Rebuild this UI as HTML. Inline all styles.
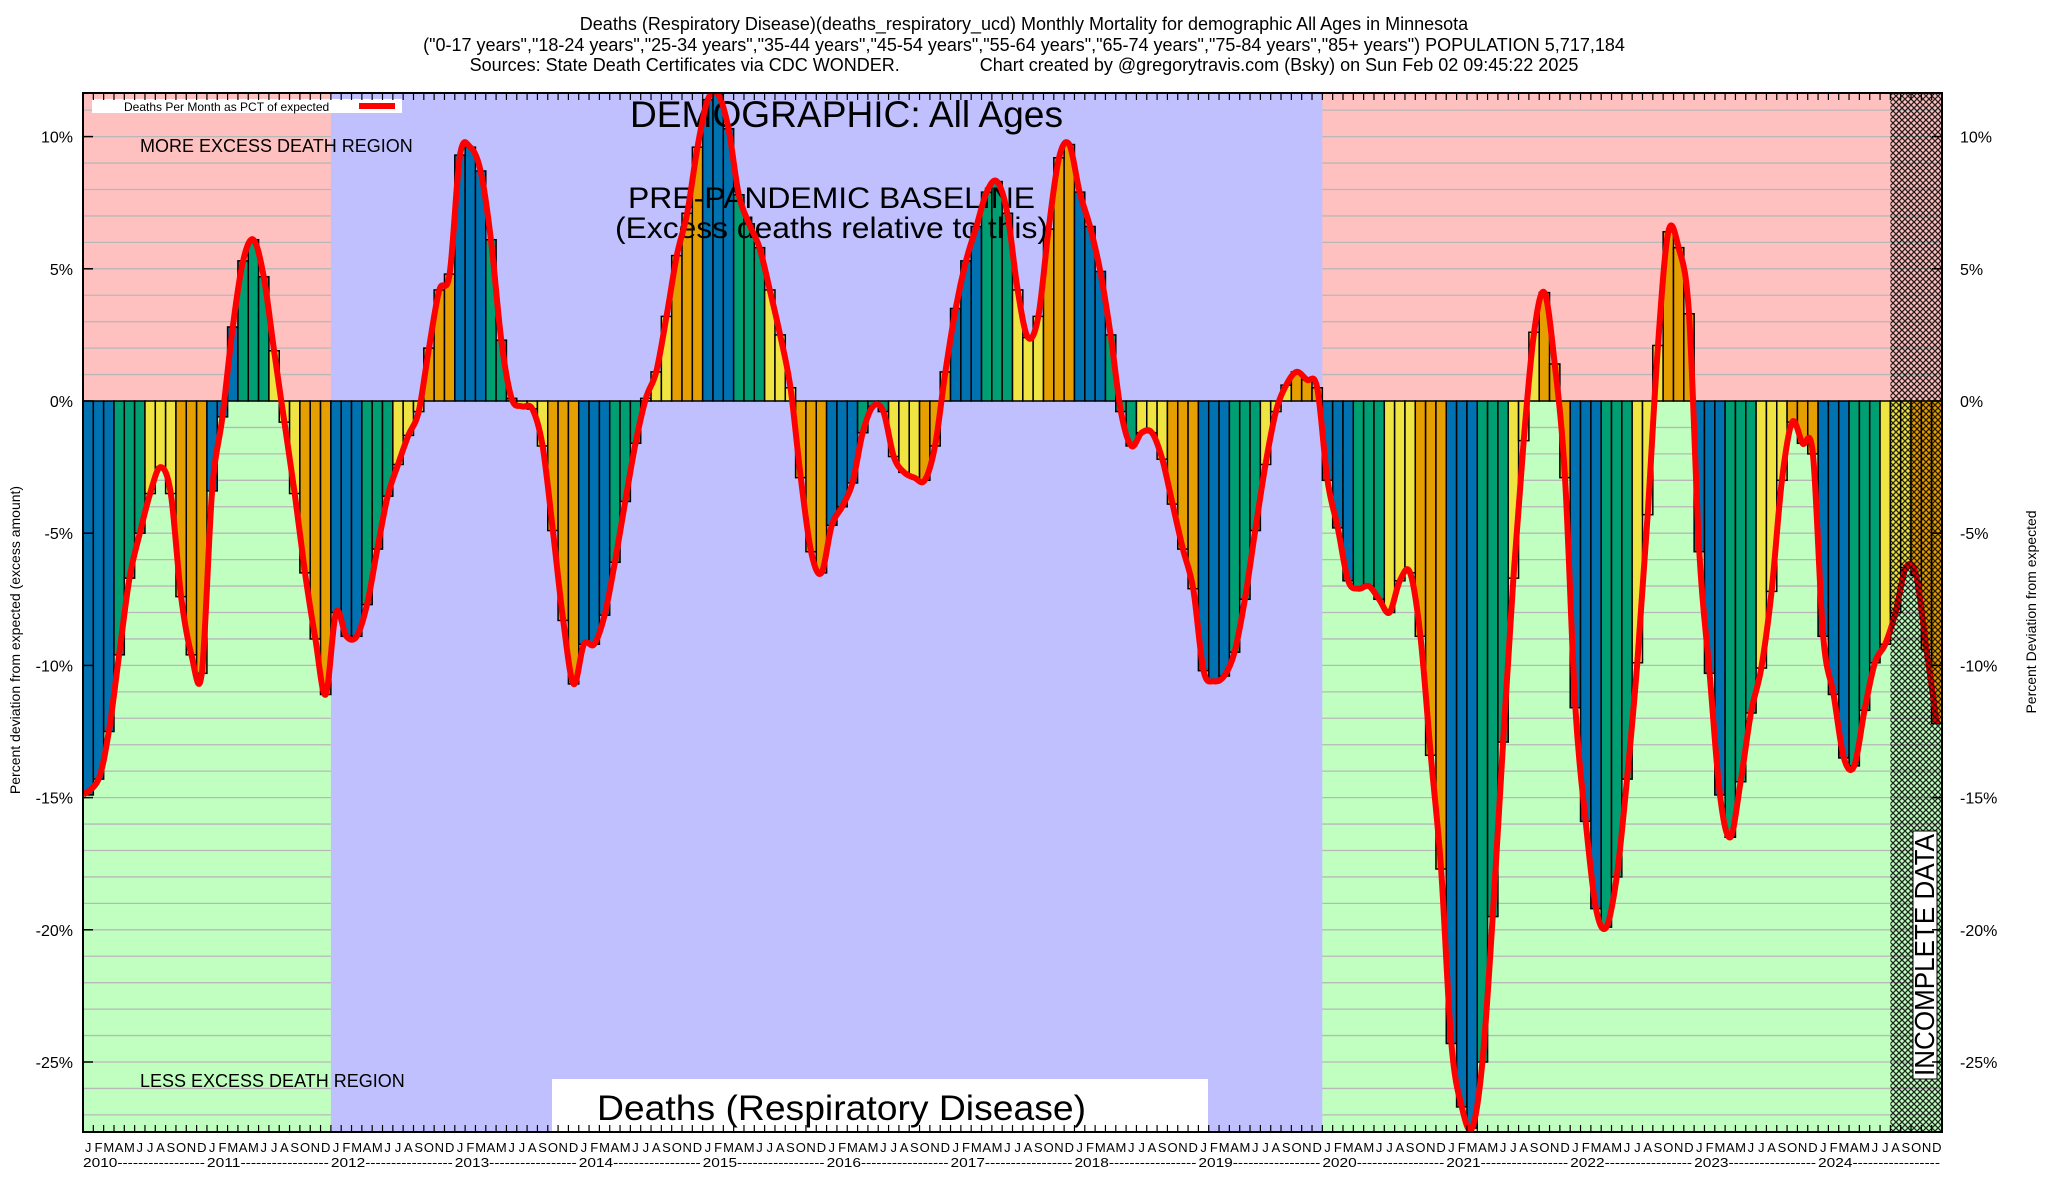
<!DOCTYPE html>
<html><head><meta charset="utf-8">
<style>
html,body{margin:0;padding:0;background:#fff;}
svg{display:block;font-family:"Liberation Sans",Arial,sans-serif;}
</style></head>
<body>
<svg id="chart" width="2048" height="1200" viewBox="0 0 2048 1200" xmlns="http://www.w3.org/2000/svg">
<defs>
<pattern id="hatch" width="6" height="6" patternUnits="userSpaceOnUse">
<path d="M0,0 L6,6 M6,0 L0,6" stroke="#000" stroke-width="1.3" opacity="0.85"/>
</pattern>
<clipPath id="plotclip"><rect x="83" y="93" width="1859" height="1039"/></clipPath>
</defs>
<g font-size="18" text-anchor="middle" fill="#000">
<text x="1024" y="30">Deaths (Respiratory Disease)(deaths_respiratory_ucd) Monthly Mortality for demographic All Ages in Minnesota</text>
<text x="1024" y="51">("0-17 years","18-24 years","25-34 years","35-44 years","45-54 years","55-64 years","65-74 years","75-84 years","85+ years") POPULATION 5,717,184</text>
<text x="1024" y="71" xml:space="preserve">Sources: State Death Certificates via CDC WONDER.                Chart created by @gregorytravis.com (Bsky) on Sun Feb 02 09:45:22 2025</text>
</g>
<g id="bg"></g>
<g id="grid"></g>
<g id="bgover"></g>
<g id="bars" clip-path="url(#plotclip)"></g>
<g fill="#000">
<text x="140" y="152" font-size="18">MORE EXCESS DEATH REGION</text>
<text x="140" y="1087" font-size="18">LESS EXCESS DEATH REGION</text>
<text x="630" y="127" font-size="37" textLength="433" lengthAdjust="spacingAndGlyphs">DEMOGRAPHIC: All Ages</text>
<text x="628" y="208" font-size="30" textLength="407" lengthAdjust="spacingAndGlyphs">PRE-PANDEMIC BASELINE</text>
<text x="615" y="238" font-size="30" textLength="433" lengthAdjust="spacingAndGlyphs">(Excess deaths relative to this)</text>
<rect x="552" y="1079" width="656" height="53" fill="#fff"/>
<text x="597" y="1120" font-size="35" textLength="489" lengthAdjust="spacingAndGlyphs">Deaths (Respiratory Disease)</text>
</g>
<path id="line" fill="none" stroke="#ff0000" stroke-width="6" stroke-linejoin="round" clip-path="url(#plotclip)"/>
<g id="hatchg"></g>
<g>
<rect x="1913" y="831" width="24" height="248" fill="#fff" stroke="#000" stroke-width="1"/>
<text transform="translate(1934,1076) rotate(-90)" font-size="28" textLength="242" lengthAdjust="spacingAndGlyphs">INCOMPLETE DATA</text>
</g>
<g>
<rect x="92" y="99" width="310" height="14" fill="#fff"/>
<text x="124" y="111" font-size="12">Deaths Per Month as PCT of expected</text>
<line x1="359" y1="106" x2="395" y2="106" stroke="#ff0000" stroke-width="6"/>
</g>
<g id="axes"></g>
<text transform="translate(20,640) rotate(-90)" font-size="14" text-anchor="middle">Percent deviation from expected (excess amount)</text>
<text transform="translate(2036,612) rotate(-90)" font-size="14" text-anchor="middle">Percent Deviation from expected</text>
</svg>
<script>
const years = [2010,2011,2012,2013,2014,2015,2016,2017,2018,2019,2020,2021,2022,2023,2024];
const monthLetters = ["J","F","M","A","M","J","J","A","S","O","N","D"];
const yTicks = [10,5,0,-5,-10,-15,-20,-25];
const yTickLabels = ["10%","5%","0%","-5%","-10%","-15%","-20%","-25%"];
const pctValues = [
-14.9,-14.3,-12.5,-9.6,-6.7,-5.0,-3.5,-2.5,-3.5,-7.4,-9.6,-10.3,
-3.4,-0.6,2.8,5.3,6.1,4.7,1.9,-0.8,-3.5,-6.5,-9.0,-11.1,
-8.0,-8.9,-8.9,-7.7,-5.6,-3.6,-2.4,-1.3,-0.4,2.0,4.2,4.8,
9.3,9.6,8.7,6.1,2.3,0.1,-0.2,-0.3,-1.7,-4.9,-8.3,-10.7,
-9.2,-9.2,-8.1,-6.1,-3.8,-1.6,0.1,1.1,3.2,5.5,7.1,9.6,
11.4,11.6,10.3,7.8,6.7,5.8,4.2,2.5,0.5,-2.9,-5.7,-6.5,
-4.7,-4.0,-3.1,-1.2,-0.2,-0.4,-2.1,-2.7,-2.9,-3.0,-1.7,1.1,
3.5,5.3,6.6,7.9,8.3,7.1,4.2,2.4,3.2,6.5,9.2,9.7,
7.9,6.6,4.9,2.5,-0.4,-1.7,-1.2,-1.2,-2.2,-3.9,-5.6,-7.1,
-10.2,-10.6,-10.4,-9.5,-7.5,-4.9,-2.4,-0.4,0.6,1.1,0.8,0.5,
-3.0,-4.8,-6.8,-7.1,-7.0,-7.5,-8.0,-6.8,-6.5,-8.9,-13.4,-17.7,
-24.3,-26.7,-27.5,-25.0,-19.5,-12.9,-6.7,-1.5,2.6,4.1,1.4,-2.9,
-11.6,-15.9,-19.2,-19.9,-18.0,-14.3,-9.9,-4.3,2.1,6.4,5.8,3.3,
-5.7,-10.3,-14.9,-16.5,-14.4,-11.8,-10.1,-7.2,-3.0,-0.8,-1.6,-2.0,
-8.9,-11.1,-13.5,-13.8,-11.7,-9.9,-9.2,-8.0,-6.3,-6.6,-9.4,-12.2
];
const baselineStartMonth = 24, baselineEndMonth = 120, incompleteStartMonth = 175;

const L=83,R=1942,T=93,B=1132,Y0=401,PPU=26.44;
const N=years.length*12, MW=(R-L)/N;
const NS="http://www.w3.org/2000/svg";
function xs(i){return L+i*MW;}
function ys(v){return Y0-v*PPU;}
function mk(tag,attrs,parent){const e=document.createElementNS(NS,tag);for(const k in attrs)e.setAttribute(k,attrs[k]);parent.appendChild(e);return e;}
const bg=document.getElementById('bg'),grid=document.getElementById('grid'),bgo=document.getElementById('bgover'),
bars=document.getElementById('bars'),axes=document.getElementById('axes'),hg=document.getElementById('hatchg');

let r=mk('rect',{x:L,y:T,width:R-L,height:ys(0)-T,fill:'#ffc0c0'},bg);


r=mk('rect',{x:L,y:ys(0),width:R-L,height:B-ys(0),fill:'#c0ffc0'},bg);


for(let v=11;v>=-27;v--){
  const l=mk('line',{x1:L,x2:R,y1:ys(v),y2:ys(v),stroke:'#b8b8b8','stroke-width':1.3},grid);
  
  
}
r=mk('rect',{x:xs(baselineStartMonth),y:T,width:xs(baselineEndMonth)-xs(baselineStartMonth),height:B-T,fill:'#c0c0ff'},bgo);



const colors=['#0072b2','#009e73','#f0e442','#e69f00'];
pctValues.forEach((v,i)=>{
  const y1=Math.min(ys(v),ys(0)),h=Math.abs(ys(v)-ys(0));
  const b=mk('rect',{x:xs(i),y:y1,width:MW,height:h,fill:colors[Math.floor((i%12)/3)],stroke:'#000','stroke-width':1.5},bars);
  
  
});

const pts=pctValues.map((v,i)=>[xs(i)+MW/2,ys(v)]);
pts[0][0]=xs(0);
let d='M'+pts[0][0]+','+pts[0][1];
for(let i=0;i<pts.length-1;i++){
  const p0=pts[Math.max(0,i-1)],p1=pts[i],p2=pts[i+1],p3=pts[Math.min(pts.length-1,i+2)];
  const c1=[p1[0]+(p2[0]-p0[0])/6,p1[1]+(p2[1]-p0[1])/6];
  const c2=[p2[0]-(p3[0]-p1[0])/6,p2[1]-(p3[1]-p1[1])/6];
  d+=' C'+c1[0].toFixed(1)+','+c1[1].toFixed(1)+' '+c2[0].toFixed(1)+','+c2[1].toFixed(1)+' '+p2[0].toFixed(1)+','+p2[1].toFixed(1);
}
document.getElementById('line').setAttribute('d',d);

r=mk('rect',{x:xs(incompleteStartMonth),y:T,width:R-xs(incompleteStartMonth),height:B-T,fill:'url(#hatch)'},hg);



r=mk('rect',{x:L,y:T,width:R-L,height:B-T,fill:'none',stroke:'#000','stroke-width':2},axes);


for(let i=1;i<N;i++){
  const t1=mk('line',{x1:xs(i),x2:xs(i),y1:T,y2:T+7,stroke:'#000','stroke-width':1.2},axes);
  
  
  const t2=mk('line',{x1:xs(i),x2:xs(i),y1:B,y2:B-7,stroke:'#000','stroke-width':1.2},axes);
  
  
}
for(let i=0;i<N;i++){
  const t=mk('text',{x:xs(i)+MW/2,y:1152,'font-size':13,'text-anchor':'middle'},axes);
  t.textContent=monthLetters[i%12];
  
  
}
years.forEach((yr,k)=>{
  const t=mk('text',{x:xs(k*12),y:1167,'font-size':13,textLength:(MW*12-2).toFixed(1),lengthAdjust:'spacingAndGlyphs'},axes);
  t.textContent=yr+'-----------------';
  
  
});
yTicks.forEach((v,k)=>{
  const a=mk('line',{x1:L,x2:L+10,y1:ys(v),y2:ys(v),stroke:'#000','stroke-width':1.5},axes);
  
  
  const b=mk('line',{x1:R-10,x2:R,y1:ys(v),y2:ys(v),stroke:'#000','stroke-width':1.5},axes);
  
  
  const t=mk('text',{x:73,y:ys(v)+6,'font-size':16,'text-anchor':'end'},axes);
  t.textContent=yTickLabels[k];
  
  
  const t2=mk('text',{x:1960,y:ys(v)+6,'font-size':16},axes);
  t2.textContent=yTickLabels[k];
  
  
});
</script>
</body></html>
